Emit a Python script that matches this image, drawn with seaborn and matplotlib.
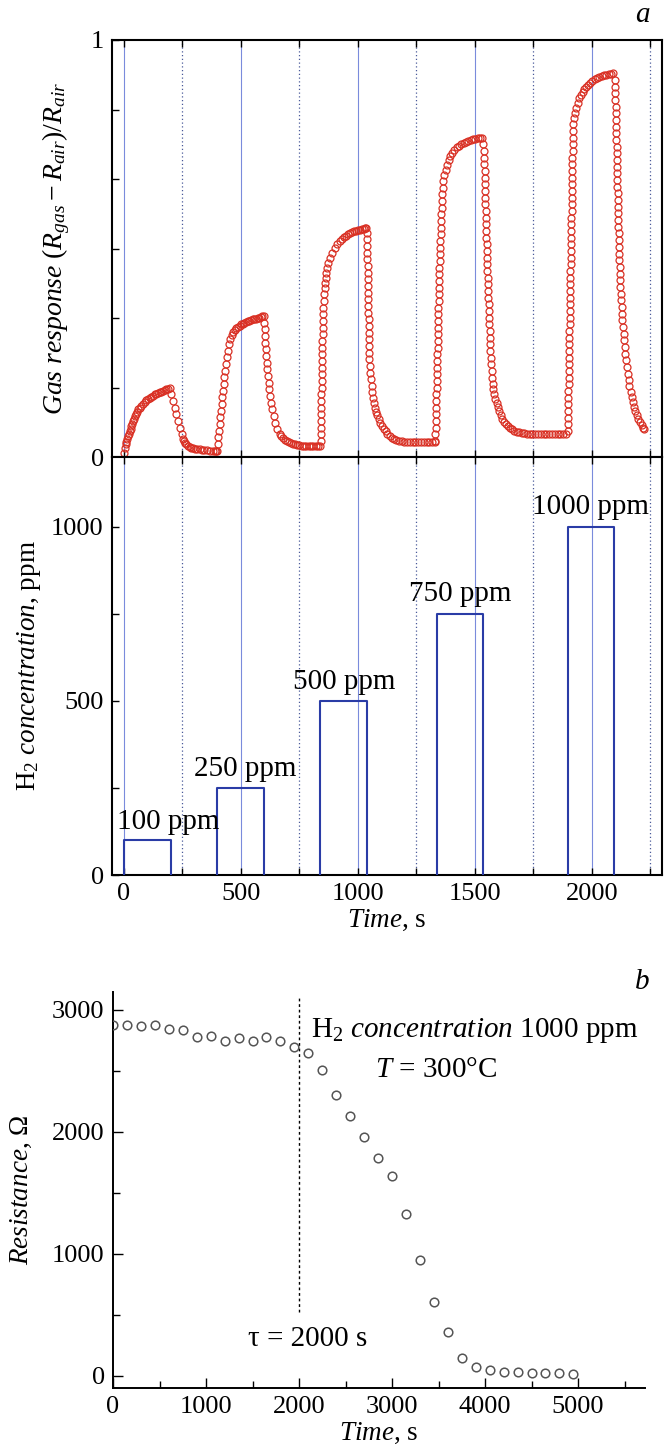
import matplotlib
matplotlib.use("Agg")
import matplotlib.pyplot as plt
from matplotlib.ticker import MultipleLocator, FixedLocator
import pandas as pd
import seaborn as sns

# ---------------- Panel a (top): gas response ----------------
t_c1 = [0, 4, 8, 11, 15, 18, 22, 26, 30, 33, 37, 40, 44, 47, 52, 57, 62, 68, 75, 83,
        90, 97, 104, 111, 118, 125, 132, 140, 147, 154, 161, 168, 175, 182, 190, 197,
        204, 211, 218, 225, 232, 239, 247, 253, 258, 263, 268, 275, 282, 289, 296, 305,
        315, 325, 335, 345, 355, 368, 380, 390, 396]
r_c1 = [0.010, 0.022, 0.030, 0.036, 0.043, 0.050, 0.056, 0.062, 0.068, 0.074, 0.080, 0.086,
        0.092, 0.098, 0.104, 0.109, 0.114, 0.118, 0.123, 0.128, 0.132, 0.136, 0.139, 0.142,
        0.145, 0.147, 0.150, 0.152, 0.154, 0.156, 0.157, 0.158, 0.160, 0.162, 0.163, 0.165,
        0.150, 0.134, 0.118, 0.102, 0.086, 0.070, 0.054, 0.042, 0.038, 0.034, 0.030, 0.027,
        0.024, 0.022, 0.021, 0.020, 0.019, 0.018, 0.017, 0.016, 0.016, 0.015, 0.015, 0.015,
        0.015]

t_c2 = [399, 402, 405, 408, 410, 412, 415, 418, 421, 424, 427, 430, 434, 438, 442, 446,
        451, 456, 461, 467, 474, 481, 488, 495, 502, 509, 516, 523, 530, 537, 544, 551,
        558, 565, 572, 579, 586, 593, 598,
        600, 602, 603, 605, 607, 609, 611, 613, 616, 619, 622, 626, 630, 635, 641, 648,
        657, 667, 674, 681, 690, 698, 706, 715, 724, 733, 742, 751, 760, 770, 780, 790,
        800, 810, 820, 830, 838]
r_c2 = [0.015, 0.031, 0.047, 0.063, 0.079, 0.095, 0.111, 0.127, 0.143, 0.159, 0.175, 0.191,
        0.207, 0.223, 0.239, 0.255, 0.271, 0.284, 0.293, 0.300, 0.305, 0.309, 0.312, 0.315,
        0.318, 0.320, 0.322, 0.324, 0.326, 0.327, 0.329, 0.330, 0.331, 0.332, 0.333, 0.334,
        0.335, 0.337, 0.338,
        0.322, 0.306, 0.290, 0.274, 0.258, 0.242, 0.226, 0.210, 0.194, 0.178, 0.162, 0.146,
        0.130, 0.114, 0.098, 0.082, 0.066, 0.054, 0.050, 0.045, 0.041, 0.038, 0.036, 0.033,
        0.031, 0.030, 0.029, 0.028, 0.027, 0.027, 0.026, 0.026, 0.026, 0.026, 0.026, 0.026,
        0.027]

t_c3 = [841, 841.5, 842, 843, 843.5, 844, 844.5, 845, 845.5, 846, 846.5, 847, 847.5, 848,
        848.5, 849, 849.5, 850, 851, 851.5,
        853.5, 855, 857, 859, 861, 863, 866, 869, 874, 880, 890, 902, 912, 923, 931, 940,
        949, 958, 966, 975, 983, 992, 1001, 1010, 1018, 1025, 1030, 1037,
        1039, 1040, 1040.5, 1041, 1041.5, 1042, 1042.5, 1043, 1043.5, 1044, 1044.5, 1045,
        1045.5, 1046, 1046.5, 1047, 1047.5, 1048, 1049, 1050,
        1052, 1054, 1056, 1059, 1062, 1065, 1069, 1074, 1079, 1084, 1090, 1097, 1104, 1111,
        1119, 1127, 1136, 1145, 1155, 1165, 1176, 1187, 1198, 1210, 1222, 1234, 1246, 1258,
        1270, 1282, 1294, 1306, 1318, 1328]
r_c3 = [0.038, 0.054, 0.070, 0.086, 0.102, 0.118, 0.134, 0.150, 0.166, 0.182, 0.198, 0.214,
        0.230, 0.246, 0.262, 0.278, 0.294, 0.310, 0.326, 0.342,
        0.358, 0.374, 0.390, 0.406, 0.418, 0.430, 0.442, 0.454, 0.466, 0.478, 0.490, 0.502,
        0.510, 0.518, 0.523, 0.528, 0.531, 0.534, 0.537, 0.539, 0.541, 0.542, 0.544, 0.545,
        0.546, 0.547, 0.548, 0.548,
        0.538, 0.522, 0.506, 0.490, 0.474, 0.458, 0.442, 0.426, 0.410, 0.394, 0.378, 0.362,
        0.346, 0.330, 0.314, 0.298, 0.282, 0.266, 0.250, 0.234,
        0.218, 0.202, 0.186, 0.170, 0.155, 0.142, 0.130, 0.118, 0.108, 0.100, 0.090, 0.082,
        0.075, 0.068, 0.062, 0.056, 0.050, 0.046, 0.043, 0.041, 0.039, 0.038, 0.037, 0.036,
        0.036, 0.036, 0.036, 0.036, 0.035, 0.035, 0.035, 0.035, 0.035, 0.036]

t_c4 = [1331, 1332, 1333, 1333.5, 1334, 1335, 1335.5, 1336, 1337, 1337.5, 1338, 1339,
        1339.5, 1340, 1341, 1341.5, 1342, 1343, 1343.5, 1344, 1345, 1345.5, 1346, 1347,
        1348, 1348.5, 1349, 1350, 1351, 1352, 1353, 1354, 1355, 1356, 1357, 1358, 1359.5,
        1361, 1363,
        1366, 1370, 1375, 1381, 1388, 1396, 1404, 1413, 1422, 1432, 1442, 1452, 1462, 1472,
        1482, 1492, 1502, 1512, 1522, 1532,
        1537, 1538.5, 1540, 1541, 1542, 1543, 1543.5, 1544, 1545, 1545.5, 1546, 1547, 1548,
        1549, 1550, 1551, 1551.5, 1552, 1553, 1554, 1555, 1556, 1557, 1558, 1559, 1560,
        1561, 1562, 1563, 1564, 1565, 1566.5, 1568, 1570, 1572, 1574,
        1577, 1580, 1584, 1588, 1593, 1598, 1604, 1610, 1617, 1624, 1632, 1640, 1649, 1659,
        1669, 1679, 1690, 1700, 1711, 1722,
        1734, 1746, 1758, 1770, 1782, 1794, 1806, 1818, 1830, 1842, 1854, 1866, 1878, 1890]
r_c4 = [0.038, 0.054, 0.070, 0.086, 0.102, 0.118, 0.134, 0.150, 0.166, 0.182, 0.198, 0.214,
        0.230, 0.246, 0.262, 0.278, 0.294, 0.310, 0.326, 0.342, 0.358, 0.374, 0.390, 0.406,
        0.422, 0.438, 0.454, 0.470, 0.486, 0.502, 0.518, 0.534, 0.550, 0.566, 0.582, 0.598,
        0.614, 0.630, 0.646,
        0.662, 0.676, 0.688, 0.700, 0.712, 0.722, 0.730, 0.737, 0.743, 0.747, 0.751, 0.754,
        0.756, 0.758, 0.760, 0.762, 0.763, 0.764, 0.765, 0.766,
        0.750, 0.734, 0.718, 0.702, 0.686, 0.670, 0.654, 0.638, 0.622, 0.606, 0.590, 0.574,
        0.558, 0.542, 0.526, 0.510, 0.494, 0.478, 0.462, 0.446, 0.430, 0.414, 0.398, 0.382,
        0.366, 0.350, 0.334, 0.318, 0.302, 0.286, 0.270, 0.254, 0.238, 0.222, 0.206, 0.190,
        0.176, 0.162, 0.150, 0.140, 0.130, 0.120, 0.110, 0.100, 0.092, 0.085, 0.079, 0.074,
        0.070, 0.066, 0.063, 0.061, 0.059, 0.058, 0.057, 0.056,
        0.055, 0.055, 0.055, 0.055, 0.055, 0.055, 0.055, 0.055, 0.055, 0.055, 0.055, 0.055,
        0.055, 0.055]

t_c5 = [1897, 1897.5, 1898, 1898.5, 1899, 1899.5, 1900, 1900.5, 1901, 1901.5,
        1902, 1902.5, 1903, 1903.5, 1904, 1904.5, 1905, 1905.5, 1906, 1906.5,
        1907, 1907.5, 1908, 1908.5, 1909, 1909.5, 1910, 1910.5, 1911, 1911.5,
        1912, 1912.5, 1913, 1913.5, 1914, 1914.5, 1915, 1915.5, 1916, 1916.5,
        1917, 1917.5, 1918, 1918.5, 1919, 1920, 1921,
        1924, 1928, 1933, 1940, 1947, 1954, 1961, 1968, 1976, 1984, 1993, 2002, 2012, 2022,
        2032, 2042, 2052, 2062, 2072, 2082, 2092,
        2099, 2099.7, 2100.3, 2101, 2101.7, 2102.3, 2103, 2103.7, 2104.3, 2105, 2105.7,
        2106.3, 2107, 2107.7, 2108.4, 2109.1, 2109.8, 2110.5, 2111.2, 2111.9, 2112.6,
        2113.3, 2114, 2114.9, 2115.8, 2116.7, 2117.5, 2118.4, 2119.3, 2120.1, 2121, 2122.6,
        2124.2, 2125.8, 2127.4, 2129, 2131.2, 2133.4, 2135.6, 2137.8, 2140, 2143.4, 2146.8,
        2150.2, 2153.6, 2157, 2161, 2165.5, 2170, 2175, 2180, 2186, 2192, 2199, 2206, 2213,
        2218, 2222]
r_c5 = [0.062, 0.078, 0.094, 0.110, 0.126, 0.142, 0.158, 0.174, 0.190, 0.206,
        0.222, 0.238, 0.254, 0.270, 0.286, 0.302, 0.318, 0.334, 0.350, 0.366,
        0.382, 0.398, 0.414, 0.430, 0.446, 0.462, 0.478, 0.494, 0.510, 0.526,
        0.542, 0.558, 0.574, 0.590, 0.606, 0.622, 0.638, 0.654, 0.670, 0.686,
        0.702, 0.718, 0.734, 0.750, 0.766, 0.782, 0.798,
        0.812, 0.826, 0.838, 0.850, 0.860, 0.868, 0.876, 0.882, 0.888, 0.893, 0.898, 0.902,
        0.906, 0.909, 0.912, 0.914, 0.916, 0.917, 0.918, 0.919, 0.920,
        0.904, 0.888, 0.872, 0.856, 0.840, 0.824, 0.808, 0.792, 0.776, 0.760, 0.744,
        0.728, 0.712, 0.696, 0.680, 0.664, 0.648, 0.632, 0.616, 0.600, 0.584,
        0.568, 0.552, 0.536, 0.520, 0.504, 0.488, 0.472, 0.456, 0.440, 0.424, 0.408,
        0.392, 0.376, 0.360, 0.344, 0.328, 0.312, 0.296, 0.280, 0.264, 0.248, 0.232,
        0.216, 0.200, 0.184, 0.170, 0.156, 0.143, 0.131, 0.120, 0.110, 0.100, 0.091, 0.083,
        0.076, 0.070, 0.066]

# ---------------- Panel a (bottom): H2 pulses ----------------
conc_on = [0, 400, 840, 1338, 1898]
conc_off = [200, 600, 1040, 1536, 2095]
conc_level = [100, 250, 500, 750, 1000]
conc_labels = ["100 ppm", "250 ppm", "500 ppm", "750 ppm", "1000 ppm"]

# ---------------- Panel b: resistance ----------------
t_b = [0, 150, 300, 450, 600, 750, 900, 1050, 1200, 1350, 1500, 1650, 1800, 1950, 2100,
       2250, 2400, 2550, 2700, 2850, 3000, 3150, 3300, 3450, 3600, 3750, 3900, 4050, 4200,
       4350, 4500, 4650, 4800, 4950]
R_b = [2877, 2872, 2863, 2877, 2844, 2831, 2776, 2782, 2741, 2768, 2743, 2776, 2741, 2694,
       2648, 2503, 2304, 2127, 1958, 1786, 1639, 1325, 949, 603, 355, 145, 71, 44, 35, 33,
       22, 22, 19, 16]

# ---------------- styling ----------------
sns.set_theme(style="ticks")
plt.rcParams['font.family'] = ['Liberation Serif', 'DejaVu Serif']
plt.rcParams['mathtext.fontset'] = 'custom'
plt.rcParams['mathtext.rm'] = 'Liberation Serif'
plt.rcParams['mathtext.it'] = 'Liberation Serif:italic'
plt.rcParams['mathtext.bf'] = 'Liberation Serif:bold'
plt.rcParams['axes.edgecolor'] = 'black'
plt.rcParams['xtick.color'] = 'black'
plt.rcParams['ytick.color'] = 'black'
plt.rcParams['text.color'] = 'black'
plt.rcParams['axes.labelcolor'] = 'black'

RED = '#d93024'
BLUE = '#2a3ca6'
GRID_SOLID = '#7a8bdc'
GRID_DOT = '#4a5a9a'
GRAY = '#555555'
TICK_FS = 19
LAB_FS = 19.5
ANN_FS = 21

W, H = 666, 1456
fig = plt.figure(figsize=(W / 100, H / 100), dpi=100)
ax1 = fig.add_axes([112 / W, 1 - 457 / H, 550 / W, 417 / H])
ax2 = fig.add_axes([112 / W, 1 - 875 / H, 550 / W, 418 / H])
ax3 = fig.add_axes([113 / W, 1 - 1388 / H, 532 / W, 396 / H])

# ---- top response panel
resp = pd.concat([
    pd.DataFrame({'t': t, 'r': r}) for t, r in
    [(t_c1, r_c1), (t_c2, r_c2), (t_c3, r_c3), (t_c4, r_c4), (t_c5, r_c5)]
], ignore_index=True)
sns.lineplot(data=resp, x='t', y='r', ax=ax1, estimator=None, sort=False,
             linestyle='none', marker='o', markersize=5.0, markerfacecolor='none',
             markeredgecolor=RED, markeredgewidth=0.9, color=RED, zorder=3)

# ---- concentration pulses
for on, off, lv in zip(conc_on, conc_off, conc_level):
    seg = pd.DataFrame({'t': [on, on, off, off], 'c': [0, lv, lv, 0]})
    sns.lineplot(data=seg, x='t', y='c', ax=ax2, estimator=None, sort=False,
                 color=BLUE, linewidth=1.5, zorder=3)
lab_x = [192, 521, 944, 1439, 1993]
lab_y = [131, 283, 535, 786, 1036]
for txt, x, y in zip(conc_labels, lab_x, lab_y):
    ax2.text(x, y, txt, ha='center', va='baseline', fontsize=ANN_FS)

for ax in (ax1, ax2):
    ax.set_xlim(-50, 2300)
    ax.xaxis.set_major_locator(MultipleLocator(500))
    ax.xaxis.set_minor_locator(MultipleLocator(250))
    ax.grid(False)
    ax.xaxis.grid(True, which='major', color=GRID_SOLID, linewidth=0.8, linestyle='-')
    ax.xaxis.grid(True, which='minor', color=GRID_DOT, linewidth=0.9, linestyle=(0, (1, 2)))
    ax.set_axisbelow(True)
    for s in ax.spines.values():
        s.set_visible(True)
        s.set_linewidth(1.5)
        s.set_color('black')
    ax.tick_params(axis='x', which='both', direction='in', top=True, bottom=True,
                   length=5, width=1.0, labelsize=TICK_FS, pad=6)
    ax.tick_params(axis='y', which='both', direction='in', left=True, right=False,
                   length=5, width=1.0, labelsize=TICK_FS, pad=6)
    ax.set_ylabel('')
    ax.set_xlabel('')

ax1.set_ylim(0, 1)
ax1.yaxis.set_major_locator(FixedLocator([0, 1]))
ax1.yaxis.set_minor_locator(FixedLocator([1 / 6, 2 / 6, 3 / 6, 4 / 6, 5 / 6]))
ax1.tick_params(axis='x', labelbottom=False)
ax1.set_ylabel(r'$Gas\ response\ (R_{gas} - R_{air})/R_{air}$', fontsize=20)
ax1.yaxis.set_label_coords(-0.072, 0.5)

ax2.set_ylim(0, 1200)
ax2.yaxis.set_major_locator(FixedLocator([0, 500, 1000]))
ax2.yaxis.set_minor_locator(FixedLocator([250, 750]))
ax2.set_ylabel(r'H$_2$ $\mathit{concentration}$, ppm', fontsize=LAB_FS)
ax2.yaxis.set_label_coords(-0.126, 0.5)
ax2.set_xlabel(r'$\mathit{Time}$, s', fontsize=LAB_FS, labelpad=2)

# ---- panel b
sns.lineplot(x=t_b, y=R_b, ax=ax3, estimator=None, sort=False, linestyle='none',
             marker='o', markersize=6.2, markerfacecolor='none', markeredgecolor=GRAY,
             markeredgewidth=1.1, color=GRAY, zorder=3)
ax3.vlines(2000, 525, 3100, colors='black', linestyles=(0, (2, 2)), linewidth=1.0)
ax3.text(2134, 2776, r'H$_2$ $\mathit{concentration}$ 1000 ppm', fontsize=ANN_FS,
         ha='left', va='baseline')
ax3.text(2814, 2449, r'$\mathit{T}$ = 300°C', fontsize=ANN_FS, ha='left', va='baseline')
ax3.text(1447, 245, 'τ = 2000 s', fontsize=ANN_FS, ha='left', va='baseline')
ax3.set_xlim(0, 5720)
ax3.set_ylim(-100, 3145)
ax3.xaxis.set_major_locator(MultipleLocator(1000))
ax3.xaxis.set_minor_locator(MultipleLocator(500))
ax3.yaxis.set_major_locator(MultipleLocator(1000))
ax3.yaxis.set_minor_locator(MultipleLocator(500))
ax3.grid(False)
sns.despine(ax=ax3)
for s in ('left', 'bottom'):
    ax3.spines[s].set_linewidth(1.4)
    ax3.spines[s].set_color('black')
ax3.tick_params(axis='both', which='major', direction='in', length=7, width=1.0,
                labelsize=TICK_FS, pad=6)
ax3.tick_params(axis='both', which='minor', direction='in', length=5, width=1.0)
ax3.set_xlabel(r'$\mathit{Time}$, s', fontsize=LAB_FS, labelpad=2)
ax3.set_ylabel(r'$\mathit{Resistance}$, Ω', fontsize=LAB_FS)
ax3.yaxis.set_label_coords(-0.148, 0.5)

fig.text(642 / W, 1 - 15 / H, 'a', fontsize=ANN_FS, style='italic', ha='center', va='center')
fig.text(642 / W, 1 - 982 / H, 'b', fontsize=ANN_FS, style='italic', ha='center', va='center')

fig.savefig('out.png', dpi=100)
